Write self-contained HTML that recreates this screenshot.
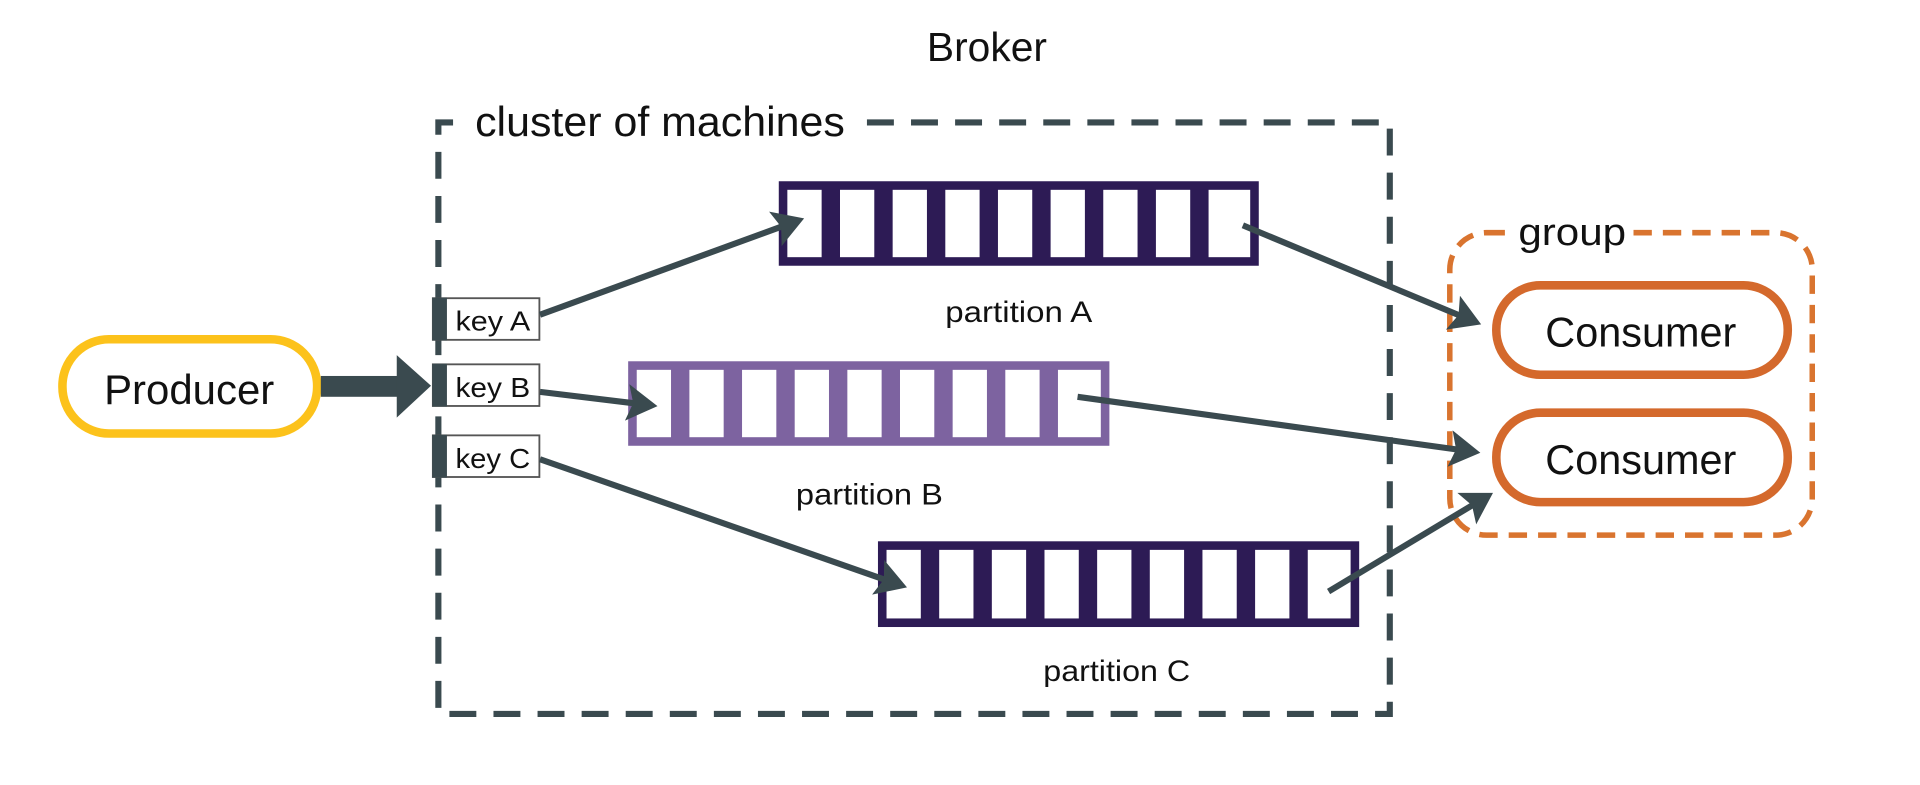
<!DOCTYPE html>
<html><head><meta charset="utf-8"><style>
html,body{margin:0;padding:0;background:#fff;}
svg{display:block}
text{font-family:"Liberation Sans Narrow","Liberation Sans",sans-serif;fill:#111;}
</style></head><body>
<svg width="1920" height="785" viewBox="0 0 1568 641" preserveAspectRatio="none" xmlns="http://www.w3.org/2000/svg">
<defs>
<marker id="ah" markerWidth="6" markerHeight="6" refX="4" refY="3" orient="auto" markerUnits="strokeWidth">
<path d="M0,0 L5,3 L0,6 L1,3 Z" fill="#3a4a4f"/>
</marker>
</defs>
<text x="757" y="50" font-size="33" textLength="98" lengthAdjust="spacingAndGlyphs">Broker</text>
<g stroke="#3a4a4f" stroke-width="5" fill="none" stroke-dasharray="22 14">
<path d="M708,100 L1135,100 L1135,583 L358,583 L358,100 L372,100"/>
</g>
<text x="388" y="111" font-size="34" textLength="302" lengthAdjust="spacingAndGlyphs">cluster of machines</text>

<rect x="636" y="148" width="392" height="69" fill="#2d1b55"/>
<rect x="513" y="295" width="393" height="69" fill="#7d63a0"/>
<rect x="717" y="442" width="393" height="70" fill="#2d1b55"/>
<g fill="#fff">
<rect x="643" y="155" width="28" height="55"/><rect x="686" y="155" width="28" height="55"/><rect x="729" y="155" width="28" height="55"/><rect x="772" y="155" width="28" height="55"/><rect x="815" y="155" width="28" height="55"/><rect x="858" y="155" width="28" height="55"/><rect x="901" y="155" width="28" height="55"/><rect x="944" y="155" width="28" height="55"/><rect x="987" y="155" width="34" height="55"/>
<rect x="520" y="302" width="28" height="55"/><rect x="563" y="302" width="28" height="55"/><rect x="606" y="302" width="28" height="55"/><rect x="649" y="302" width="28" height="55"/><rect x="692" y="302" width="28" height="55"/><rect x="735" y="302" width="28" height="55"/><rect x="778" y="302" width="28" height="55"/><rect x="821" y="302" width="28" height="55"/><rect x="864" y="302" width="35" height="55"/>
<rect x="724" y="449" width="28" height="56"/><rect x="767" y="449" width="28" height="56"/><rect x="810" y="449" width="28" height="56"/><rect x="853" y="449" width="28" height="56"/><rect x="896" y="449" width="28" height="56"/><rect x="939" y="449" width="28" height="56"/><rect x="982" y="449" width="28" height="56"/><rect x="1025" y="449" width="28" height="56"/><rect x="1068" y="449" width="35" height="56"/>
</g>
<text x="772" y="263" font-size="24" textLength="120" lengthAdjust="spacingAndGlyphs">partition A</text>
<text x="650" y="412" font-size="24" textLength="120" lengthAdjust="spacingAndGlyphs">partition B</text>
<text x="852" y="556" font-size="24" textLength="120" lengthAdjust="spacingAndGlyphs">partition C</text>

<rect x="51" y="277" width="208" height="77" rx="38" fill="#fff" stroke="#fcc21b" stroke-width="7"/>
<text x="85" y="330" font-size="34" textLength="139" lengthAdjust="spacingAndGlyphs">Producer</text>
<rect x="262" y="307" width="66" height="17" fill="#3a4a4f"/>
<path d="M324,290 L352,315 L324,341 Z" fill="#3a4a4f"/>

<g font-size="23">
<rect x="353.5" y="243.5" width="87" height="34" fill="#fff" stroke="#555" stroke-width="1.5"/>
<rect x="353" y="243" width="12" height="35" fill="#3a4a4f"/>
<text x="372" y="270" textLength="61" lengthAdjust="spacingAndGlyphs">key A</text>
<rect x="353.5" y="297.5" width="87" height="34" fill="#fff" stroke="#555" stroke-width="1.5"/>
<rect x="353" y="297" width="12" height="35" fill="#3a4a4f"/>
<text x="372" y="324" textLength="61" lengthAdjust="spacingAndGlyphs">key B</text>
<rect x="353.5" y="355.5" width="87" height="34" fill="#fff" stroke="#555" stroke-width="1.5"/>
<rect x="353" y="355" width="12" height="35" fill="#3a4a4f"/>
<text x="372" y="382" textLength="61" lengthAdjust="spacingAndGlyphs">key C</text>
</g>

<rect x="1184" y="190" width="296" height="247" rx="30" fill="none" stroke="#d9742f" stroke-width="4.5" stroke-dasharray="15 9"/>
<rect x="1232" y="175" width="102" height="34" fill="#fff"/>
<text x="1240" y="200" font-size="31" textLength="88" lengthAdjust="spacingAndGlyphs">group</text>
<rect x="1222" y="233" width="238" height="73" rx="36" fill="#fff" stroke="#d4692c" stroke-width="7"/>
<text x="1262" y="283" font-size="34" textLength="156" lengthAdjust="spacingAndGlyphs">Consumer</text>
<rect x="1222" y="337" width="238" height="73" rx="36" fill="#fff" stroke="#d4692c" stroke-width="7"/>
<text x="1262" y="387" font-size="34" textLength="156" lengthAdjust="spacingAndGlyphs">Consumer</text>

<g stroke="#3a4a4f" stroke-width="5" fill="none" marker-end="url(#ah)">
<line x1="441" y1="257" x2="652" y2="180"/>
<line x1="441" y1="320" x2="532" y2="331"/>
<line x1="441" y1="375" x2="736" y2="478"/>
<line x1="1015" y1="184" x2="1205" y2="263"/>
<line x1="880" y1="324" x2="1204" y2="369"/>
<line x1="1085" y1="483" x2="1215" y2="405"/>
</g>
</svg>
</body></html>
